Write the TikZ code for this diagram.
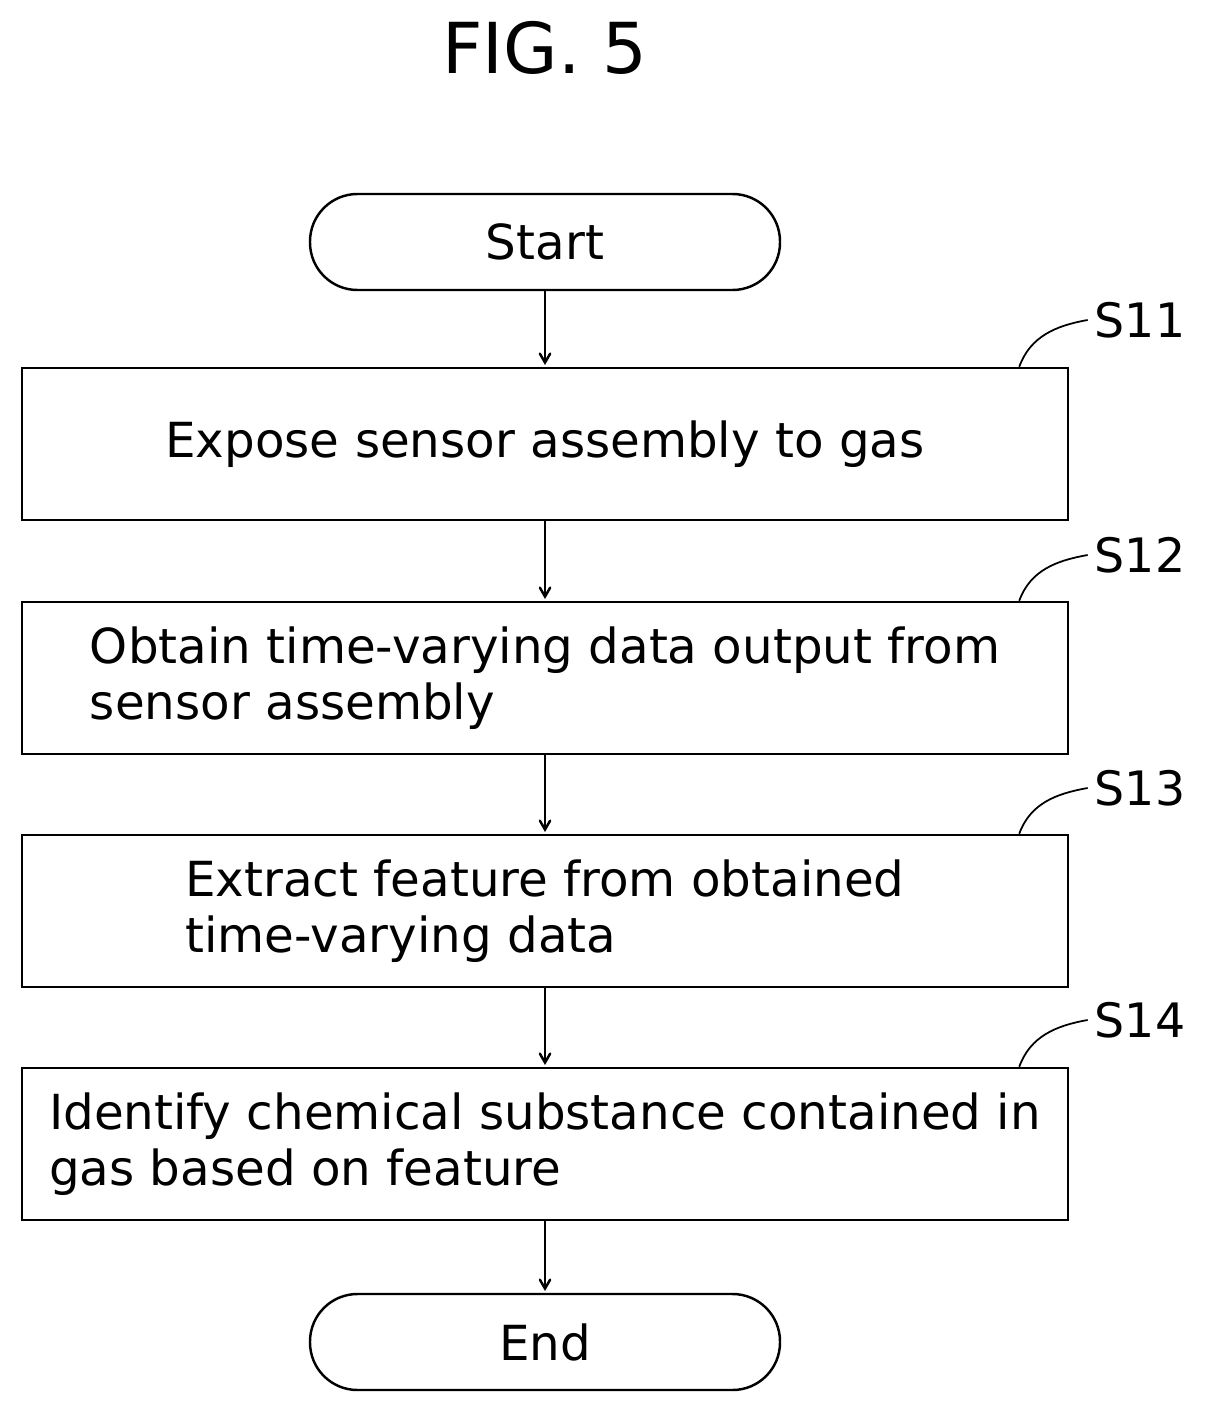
\documentclass[tikz,border=0pt]{standalone}
\usepackage{fontspec}
\setmainfont{DejaVu Sans}
\usetikzlibrary{arrows,positioning}

\begin{document}
\begin{tikzpicture}[x=0.02cm,y=-0.02cm,line width=1.4pt,>=stealth',
    font=\fontsize{27.5}{32}\selectfont]
    \tikzstyle{stepbox}=[draw,minimum width=1046*0.02cm,minimum height=152*0.02cm,align=left,inner sep=0pt]
    \tikzstyle{term}=[draw,rounded corners=0.95cm,minimum width=470*0.02cm,minimum height=96*0.02cm]
    \tikzstyle{tag}=[font=\fontsize{27}{31}\selectfont]
    \tikzstyle{flow}=[->,shorten >=1pt,>=angle 60]
    \useasboundingbox (0,0) rectangle (1210,1412);
    \node (fig) at (545,48) {\fontsize{40}{46}\selectfont FIG. 5};
    \node[term] (start) at (545,242) {Start};
    \node[stepbox] (s11) at (545,444) {Expose sensor assembly to gas};
    \node[stepbox] (s12) at (545,678) {Obtain time-varying data output from\\sensor assembly};
    \node[stepbox] (s13) at (545,911) {Extract feature from obtained\\time-varying data};
    \node[stepbox] (s14) at (545,1144) {Identify chemical substance contained in\\gas based on feature};
    \node[term] (end) at (545,1342) {End};
    \node[tag] (l11) at (1140,320) {S11};
    \node[tag] (l12) at (1140,555) {S12};
    \node[tag] (l13) at (1140,788) {S13};
    \node[tag] (l14) at (1140,1020) {S14};
    \foreach \b/\l in {s11/l11,s12/l12,s13/l13,s14/l14}
        \draw[line width=1pt] ([xshift=-1cm]\b.north east) to[out=70,in=190] (\l.west);
    \draw[flow] (start) -- (s11);
    \draw[flow] (s11) -- (s12);
    \draw[flow] (s12) -- (s13);
    \draw[flow] (s13) -- (s14);
    \draw[flow] (s14) -- (end);
\end{tikzpicture}
\end{document}
